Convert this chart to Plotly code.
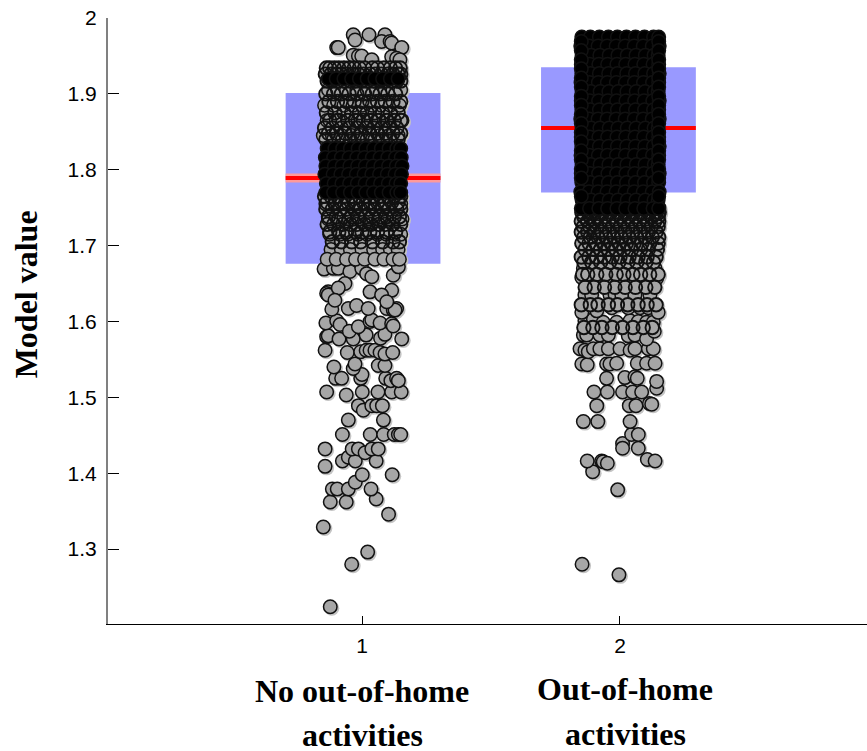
import plotly.graph_objects as go

groups = [1, 2]
box_centre = [1.004, 1.994]
box_low = [1.676, 1.770]
box_high = [1.901, 1.935]
centre_line = [1.789, 1.855]
box_half_width = 0.3

y_ticks = [1.3, 1.4, 1.5, 1.6, 1.7, 1.8, 1.9, 2.0]
y_tick_text = ["1.3", "1.4", "1.5", "1.6", "1.7", "1.8", "1.9", "2"]

# group 1: individually readable points
g1_x = [.877,.960,1.022,.850,1.103,.877,.939,1.055,1.035,.885,.904,.947,.974,1.001,1.117,.857,.924,.947,.974,1.055,
        .857,.962,.986,1.012,1.038,1.063,.924,1.032,1.084,1.125,1.141,1.150,.947,1.083,.986,1.005,1.038,1.057,1.079,
        .863,.939,1.001,1.062,1.115,1.152,.898,.921,.995,1.0,1.092,1.112,1.134,1.141,.891,.966,.973,1.063,1.089,
        .857,.943,.995,1.016,1.031,1.050,1.070,1.089,1.119,1.154,.863,.869,.911,.966,1.016,1.072,1.089,
        .860,.902,.915,.951,.986,1.031,1.038,1.070,1.115,1.121,.883,.947,.979,1.024,1.096,1.121,1.134,
        .966,.973,1.027,1.089,1.076,1.109,1.115,1.154,.902,.908,.966,.986,.999,1.038,1.115,1.134,1.147,
        .853,.889,.908,.953,.934,.999,1.018,1.038,1.031,1.121,1.141,1.115,.869,.863,.869,.908,.895,1.076,1.128,1.096]
g1_y = [1.224,1.280,1.296,1.329,1.346,1.362,1.362,1.366,1.379,1.379,1.379,1.379,1.388,1.398,1.398,1.409,1.416,1.421,1.416,1.416,
        1.432,1.432,1.432,1.427,1.432,1.432,1.451,1.451,1.451,1.451,1.451,1.451,1.470,1.470,1.489,1.483,1.489,1.489,1.489,
        1.507,1.503,1.507,1.507,1.507,1.507,1.525,1.525,1.525,1.530,1.525,1.522,1.525,1.522,1.540,1.538,1.544,1.542,1.542,
        1.562,1.559,1.560,1.562,1.562,1.562,1.559,1.557,1.559,1.577,1.580,1.581,1.577,1.577,1.582,1.578,1.583,
        1.598,1.601,1.596,1.587,1.593,1.600,1.602,1.598,1.597,1.594,1.616,1.617,1.621,1.617,1.617,1.615,1.617,
        1.978,1.971,1.978,1.978,1.969,1.969,1.967,1.961,1.961,1.961,1.951,1.950,1.950,1.945,1.949,1.947,1.945,
        1.669,1.670,1.670,1.666,1.650,1.670,1.663,1.659,1.639,1.661,1.672,1.641,1.639,1.637,1.635,1.644,1.628,1.635,1.615,1.626]

# group 1: crowded band, grey-filled points under the tangle
g1_mid_x = [.87,.905,.94,.98,1.02,1.055,1.09,1.12,1.15, .855,.89,.93,.965,1.0,1.04,1.075,1.11,1.145,
            .865,.9,.945,.985,1.025,1.06,1.1,1.13,1.155, .85,.885,.92,.96,.995,1.035,1.07,1.105,1.14,
            .86,.895,.935,.975,1.015,1.05,1.09,1.125,1.15, .87,.91,.95,.99,1.03,1.065,1.1,1.135,1.155,
            .875,.915,.945,.985,1.02,1.06,1.095,1.13,1.15, .88,.92,.955,1.0,1.045,1.08,1.11,1.14,
            .865,.9,.94,.975,1.01,1.05,1.085,1.12,1.145]
g1_mid_y = [1.905]*9 + [1.885]*9 + [1.865]*9 + [1.845]*9 + [1.755]*9 + [1.735]*9 + [1.715]*9 + [1.695]*8 + [1.682]*9

# group 1: outlines stacked in the crowded band
g1_ring_x = [.862,.875,.893,.91,.93,.95,.97,.99,1.01,1.04,1.06,1.085,1.11,1.13,1.148,
             .858,.88,.9,.92,.94,.965,.985,1.005,1.03,1.05,1.075,1.1,1.12,1.14,1.15,
             .865,.885,.905,.93,.955,.975,1.0,1.02,1.045,1.07,1.09,1.115,1.135,1.15,
             .86,.89,.92,.95,.98,1.01,1.04,1.07,1.1,1.13,.872,.905,.94,.97,1.0,1.03,1.06,1.09,1.12,1.15,
             .862,.895,.93,.96,.99,1.02,1.05,1.08,1.11,1.14,.875,.91,.945,.975,1.005,1.035,1.065,1.095,1.125,1.15,
             .855,.885,.92,.95,.98,1.015,1.045,1.075,1.105,1.135,.87,.9,.935,.965,.995,1.03,1.06,1.09,1.12,1.15,
             .86,.89,.925,.955,.985,1.02,1.05,1.08,1.11,1.14,
             .855,.88,.905,.935,.96,.99,1.015,1.045,1.07,1.1,1.125,1.15,.865,.895,.92,.945,.975,1.005,1.03,1.06,1.085,1.115,1.14,
             .86,.885,.915,.94,.97,.995,1.025,1.05,1.08,1.105,1.135,1.15,.87,.9,.93,.96,.985,1.015,1.04,1.07,1.095,1.125,1.145,
             .865,.89,.925,.955,.98,1.01,1.035,1.065,1.09,1.12,1.15,.875,.91,.94,.975,1.0,1.03,1.06,1.095,1.13,
             .885,.92,.96,.995,1.04,1.08,1.12,1.145]
g1_ring_y = [1.934]*15 + [1.926]*15 + [1.917]*14 + [1.90]*10 + [1.89]*10 + [1.875]*10 + [1.865]*10 + [1.855]*10 + [1.848]*10 + [1.84]*10 + \
            [1.765]*12 + [1.757]*11 + [1.748]*12 + [1.738]*11 + [1.728]*11 + [1.718]*9 + [1.705]*8

# group 1: the solid black parts
g1_core_x = [.87,.9,.93,.96,.99,1.02,1.05,1.08,1.11,1.14,
             .865,.895,.925,.955,.985,1.015,1.045,1.075,1.105,1.135,1.15,
             .858,.89,.92,.95,.98,1.01,1.04,1.07,1.10,1.13,1.152,
             .86,.893,.923,.953,.983,1.013,1.043,1.073,1.103,1.133,1.155,
             .856,.888,.918,.948,.978,1.008,1.038,1.068,1.098,1.128,1.153,
             .862,.892,.922,.952,.982,1.012,1.042,1.072,1.102,1.132,1.15,
             .86,.89,.925,.955,.985,1.015,1.045,1.075,1.105,1.135,1.15]
g1_core_y = [1.92]*10 + [1.828]*11 + [1.816]*11 + [1.805]*11 + [1.794]*11 + [1.782]*11 + [1.77]*11

# group 2: individually readable points
g2_x = [1.853,1.996,1.991,1.894,1.873,1.929,1.935,1.951,2.106,2.136,2.010,2.010,2.071,2.045,2.071,2.039,1.858,1.914,
        1.910,2.036,2.062,2.114,2.123,1.899,1.951,2.010,2.049,2.084,2.142,2.142,1.948,2.019,2.058,2.067,
        1.852,1.873,1.948,1.961,1.987,2.067,2.103,2.136,
        1.845,1.864,1.877,1.897,1.922,1.955,2.0,2.039,2.058,2.110,2.129,
        1.858,1.871,1.922,1.955,2.032,2.058,2.103,2.133,
        1.864,1.897,1.935,1.987,2.039,2.071,2.103,2.129,
        1.852,1.910,1.968,2.032,2.078,2.110,2.148,
        1.864,1.890,1.961,1.981,2.007,2.058,2.116,
        1.852,1.897,1.942,1.994,2.052,2.103,2.142,
        1.858,1.890,1.922,1.968,2.007,2.045,2.090,2.136]
g2_y = [1.280,1.266,1.378,1.402,1.416,1.416,1.415,1.413,1.418,1.416,1.439,1.433,1.433,1.451,1.451,1.468,1.468,1.468,
        1.489,1.489,1.489,1.492,1.491,1.507,1.507,1.507,1.507,1.507,1.512,1.521,1.525,1.526,1.527,1.525,
        1.544,1.543,1.544,1.544,1.545,1.545,1.545,1.545,
        1.564,1.562,1.560,1.564,1.564,1.564,1.564,1.562,1.564,1.564,1.564,
        1.582,1.582,1.582,1.582,1.581,1.582,1.577,1.587,
        1.601,1.603,1.599,1.599,1.601,1.600,1.599,1.599,
        1.612,1.614,1.618,1.618,1.618,1.618,1.612,
        1.635,1.635,1.635,1.635,1.635,1.635,1.635,
        1.658,1.655,1.655,1.651,1.655,1.655,1.657,
        1.670,1.670,1.670,1.670,1.670,1.670,1.670,1.670]

# group 2: outlines piling up below the solid block
g2_ring_x = [1.86,1.895,1.93,1.97,2.01,2.05,2.09,2.125,
             1.85,1.885,1.915,1.955,1.99,2.03,2.07,2.105,2.14,
             1.865,1.9,1.94,1.98,2.02,2.06,2.1,2.135,
             1.855,1.875,1.91,1.945,1.985,2.015,2.05,2.08,2.115,2.148,
             1.86,1.89,1.925,1.96,1.995,2.03,2.065,2.1,2.13,
             1.85,1.88,1.91,1.94,1.97,2.0,2.035,2.07,2.105,2.14,
             1.865,1.895,1.925,1.955,1.985,2.015,2.045,2.08,2.11,2.145,
             1.852,1.88,1.905,1.935,1.965,1.995,2.025,2.055,2.085,2.115,2.148,
             1.86,1.885,1.915,1.945,1.975,2.005,2.035,2.065,2.095,2.125,2.15,
             1.85,1.875,1.9,1.93,1.96,1.99,2.02,2.05,2.08,2.11,2.14,
             1.858,1.883,1.91,1.94,1.97,2.0,2.03,2.06,2.09,2.12,2.148,
             1.85,1.875,1.9,1.925,1.955,1.985,2.015,2.045,2.075,2.105,2.135,2.15,
             1.86,1.885,1.915,1.945,1.975,2.005,2.035,2.065,2.095,2.125,2.148,
             1.852,1.878,1.905,1.935,1.965,1.995,2.025,2.055,2.085,2.115,2.14,2.152,
             1.86,1.89,1.92,1.95,1.98,2.01,2.04,2.07,2.1,2.13,2.15]
g2_ring_y = [1.592]*8 + [1.622]*9 + [1.645]*8 + [1.662]*10 + [1.678]*9 + [1.685]*10 + [1.695]*10 + [1.703]*11 + [1.711]*11 + \
            [1.718]*11 + [1.725]*11 + [1.732]*12 + [1.738]*11 + [1.744]*12 + [1.75]*11

# group 2: the solid black block
g2_core_x = [1.852,1.885,1.92,1.955,1.99,2.025,2.06,2.095,2.13,2.15,
             1.848,1.88,1.915,1.95,1.985,2.02,2.055,2.09,2.125,2.152,
             1.853,1.888,1.922,1.958,1.992,2.028,2.062,2.098,2.132,2.148,
             1.85,1.882,1.918,1.952,1.988,2.022,2.058,2.092,2.128,2.15,
             1.852,1.886,1.92,1.956,1.99,2.026,2.06,2.096,2.13,2.152,
             1.849,1.881,1.916,1.951,1.986,2.021,2.056,2.091,2.126,2.15,
             1.853,1.887,1.923,1.957,1.993,2.027,2.063,2.097,2.133,2.148,
             1.85,1.883,1.917,1.953,1.987,2.023,2.057,2.093,2.127,2.152,
             1.852,1.885,1.92,1.955,1.99,2.025,2.06,2.095,2.13,2.15,
             1.848,1.88,1.915,1.95,1.985,2.02,2.055,2.09,2.125,2.152,
             1.853,1.888,1.922,1.958,1.992,2.028,2.062,2.098,2.132,2.148,
             1.85,1.882,1.918,1.952,1.988,2.022,2.058,2.092,2.128,2.15,
             1.852,1.886,1.92,1.956,1.99,2.026,2.06,2.096,2.13,2.152,
             1.849,1.881,1.916,1.951,1.986,2.021,2.056,2.091,2.126,2.15,
             1.853,1.887,1.923,1.957,1.993,2.027,2.063,2.097,2.133,2.148,
             1.85,1.883,1.917,1.953,1.987,2.023,2.057,2.093,2.127,2.152,
             1.852,1.885,1.92,1.955,1.99,2.025,2.06,2.095,2.13,2.15,
             1.848,1.88,1.915,1.95,1.985,2.02,2.055,2.09,2.125,2.152,
             1.853,1.888,1.922,1.958,1.992,2.028,2.062,2.098,2.132,2.148,
             1.85,1.882,1.918,1.952,1.988,2.022,2.058,2.092,2.128,2.15]
g2_core_y = [1.975]*10 + [1.963]*10 + [1.951]*10 + [1.939]*10 + [1.927]*10 + [1.915]*10 + [1.903]*10 + [1.891]*10 + [1.879]*10 + \
            [1.867]*10 + [1.855]*10 + [1.843]*10 + [1.831]*10 + [1.819]*10 + [1.807]*10 + [1.795]*10 + [1.783]*10 + [1.771]*10 + [1.76]*10 + [1.749]*10

# group 2: points hugging the sides of the block
g2_edge_x = [1.85]*17 + [2.15]*17
g2_edge_y = [1.969,1.957,1.945,1.933,1.921,1.909,1.897,1.885,1.873,1.861,1.849,1.837,1.825,1.813,1.801,1.789,1.765,
             1.969,1.957,1.945,1.933,1.921,1.909,1.897,1.885,1.873,1.861,1.849,1.837,1.825,1.813,1.801,1.789,1.765]

SANS = "Liberation Sans"
SERIF = "Liberation Serif"
GREY = "#a6a6a6"
XR = [0.0155, 2.9574]
YR = [1.2012, 2.0]
DX = 1.5 / 258
DY = 1.5 / 758
CLEAR = "rgba(0,0,0,0)"

fig = go.Figure()

fig.add_trace(go.Bar(x=box_centre, base=box_low, y=[h - l for h, l in zip(box_high, box_low)],
                     width=2 * box_half_width, marker=dict(color="#9999ff", line=dict(width=0)),
                     hoverinfo="skip", showlegend=False))

for g, c in zip(box_centre, centre_line):
    xs = [g - box_half_width, g + box_half_width]
    if g < 1.5:
        fig.add_trace(go.Scatter(x=xs, y=[c, c], mode="lines", line=dict(color="#ff9a9a", width=9),
                                 hoverinfo="skip", showlegend=False))
    fig.add_trace(go.Scatter(x=xs, y=[c, c], mode="lines", line=dict(color="#ff0000", width=4),
                             hoverinfo="skip", showlegend=False))

# soft drop shadow on a slightly shifted overlay scale
for xs, ys in ((g1_x + g1_mid_x + g1_ring_x, g1_y + g1_mid_y + g1_ring_y), (g2_x + g2_ring_x, g2_y + g2_ring_y)):
    fig.add_trace(go.Scatter(x=xs, y=ys, mode="markers", xaxis="x2", yaxis="y2",
                             marker=dict(size=15, color="#c4c4c4", line=dict(width=0)),
                             hoverinfo="skip", showlegend=False))

def dots(xs, ys, fill, lw):
    fig.add_trace(go.Scatter(x=xs, y=ys, mode="markers", xaxis="x3", yaxis="y3",
                             marker=dict(size=13.5, color=fill, line=dict(color="#111111", width=lw)),
                             hoverinfo="skip", showlegend=False))

dots(g1_x, g1_y, GREY, 1.5)
dots(g1_ring_x, g1_ring_y, GREY, 0)
dots(g1_mid_x, g1_mid_y, GREY, 1.5)
dots(g1_ring_x, g1_ring_y, CLEAR, 1.9)
dots(g1_core_x, g1_core_y, "#000000", 1.5)
dots(g2_x, g2_y, GREY, 1.5)
dots(g2_ring_x, g2_ring_y, GREY, 0)
dots(g2_ring_x, g2_ring_y, CLEAR, 1.9)
dots(g2_core_x, g2_core_y, "#000000", 1.5)
dots(g2_edge_x, g2_edge_y, "#000000", 1.5)

labels = [(1, -0.110, "No out-of-home", None), (1, -0.1835, "activities", 32),
          (2.02, -0.107, "Out-of-home", None), (2.02, -0.181, "activities", 32)]
anns = []
for x, y, t, h in labels:
    a = dict(x=x, y=y, xref="x", yref="paper", text=f"<b>{t}</b>", showarrow=False,
             xanchor="center", yanchor="middle", font=dict(family=SERIF, size=32, color="black"))
    if h:
        a["height"] = h
    anns.append(a)
anns.append(dict(x=-0.108, y=0.544, xref="paper", yref="paper", text="<b>Model value</b>", showarrow=False,
                 textangle=-90, xanchor="center", yanchor="middle",
                 font=dict(family=SERIF, size=32, color="black")))

fig.update_layout(
    width=867, height=751, margin=dict(l=108, r=0, t=18, b=127),
    paper_bgcolor="white", plot_bgcolor="white", barmode="overlay", showlegend=False,
    annotations=anns,
    xaxis=dict(range=XR, tickvals=groups, ticktext=["1", "2"], ticks="inside", ticklen=8, tickwidth=1,
               tickcolor="black", showline=True, linecolor="black", linewidth=1, showgrid=False, zeroline=False,
               ticklabelstandoff=3, tickfont=dict(family=SANS, size=21, color="black")),
    yaxis=dict(range=YR, tickvals=y_ticks, ticktext=y_tick_text, ticks="inside", ticklen=11, tickwidth=1,
               tickcolor="black", showline=True, linecolor="#808080", linewidth=2, showgrid=False, zeroline=False,
               ticklabelstandoff=5, tickfont=dict(family=SANS, size=21, color="black")),
    xaxis2=dict(range=[XR[0] - DX, XR[1] - DX], overlaying="x", visible=False),
    yaxis2=dict(range=[YR[0] + DY, YR[1] + DY], overlaying="y", visible=False),
    xaxis3=dict(range=XR, overlaying="x", visible=False),
    yaxis3=dict(range=YR, overlaying="y", visible=False),
)

fig.write_html("out.html", config=dict(displayModeBar=False),
               post_script="document.body.style.margin='0';document.body.style.overflow='hidden';")
